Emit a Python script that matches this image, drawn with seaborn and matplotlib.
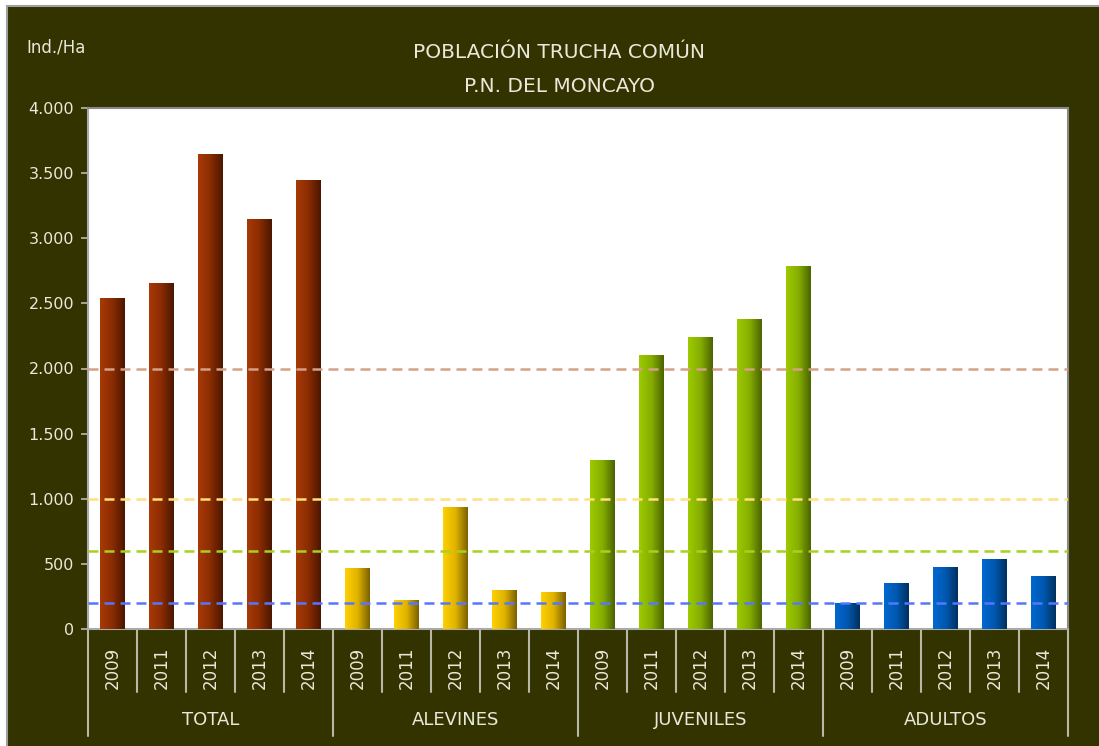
import numpy as np
import pandas as pd
import matplotlib
matplotlib.use("Agg")
import matplotlib.pyplot as plt
import seaborn as sns
from matplotlib.colors import LinearSegmentedColormap
import matplotlib.transforms as mtransforms
from matplotlib.lines import Line2D

# ---- data ----
groups = ["TOTAL", "ALEVINES", "JUVENILES", "ADULTOS"]
years = ["2009", "2011", "2012", "2013", "2014"]
total = [2540, 2655, 3645, 3145, 3445]
alevines = [468, 223, 940, 300, 284]
juveniles = [1297, 2104, 2245, 2380, 2787]
adultos = [200, 353, 476, 537, 407]
reference_levels = [2000, 1000, 600, 200]
y_ticks = [0, 500, 1000, 1500, 2000, 2500, 3000, 3500, 4000]
y_tick_labels = ["0", "500", "1.000", "1.500", "2.000", "2.500", "3.000", "3.500", "4.000"]

values = [total, alevines, juveniles, adultos]

# ---- styles ----
BG = "#333300"
TXT = "#E8E8DC"
light_cols = {"TOTAL": "#A93A08", "ALEVINES": "#FFD000", "JUVENILES": "#9CCB00", "ADULTOS": "#0068D0"}
mid_cols = {"TOTAL": "#8A2C02", "ALEVINES": "#E0B400", "JUVENILES": "#86AE00", "ADULTOS": "#0058B0"}
dark_cols = {"TOTAL": "#4A1600", "ALEVINES": "#7A6000", "JUVENILES": "#4A6400", "ADULTOS": "#00305E"}
ref_cols = ["#D4A088", "#FFE07A", "#A8D020", "#5577FF"]

rows = []
for g, vals in zip(groups, values):
    for y, v in zip(years, vals):
        rows.append({"key": f"{g} {y}", "group": g, "year": y, "value": v})
df = pd.DataFrame(rows)

sns.set_theme(style="white")
plt.rcParams["font.family"] = ["DejaVu Sans"]

W, H = 1099, 746
fig = plt.figure(figsize=(W / 100, H / 100), dpi=100, facecolor=BG)
# white margin + gray frame on top and left
fig.patches.append(plt.Rectangle((0, 1 - 6 / H), 1, 6 / H, transform=fig.transFigure,
                                 facecolor="white", edgecolor="none", zorder=-1))
fig.patches.append(plt.Rectangle((0, 0), 7 / W, 1, transform=fig.transFigure,
                                 facecolor="white", edgecolor="none", zorder=-1))
fig.lines.append(Line2D([7 / W, 1], [1 - 6 / H, 1 - 6 / H], transform=fig.transFigure,
                        color="#A0A0A0", linewidth=1.5))
fig.lines.append(Line2D([7 / W, 7 / W], [0, 1 - 6 / H], transform=fig.transFigure,
                        color="#A0A0A0", linewidth=1.5))

ax = fig.add_axes([88 / W, (H - 629) / H, (1068 - 88) / W, (629 - 108) / H])
ax.set_facecolor("white")

sns.barplot(data=df, x="key", y="value", hue="group", palette=light_cols,
            dodge=False, width=0.49, legend=False, ax=ax, zorder=3,
            order=list(df["key"]), hue_order=groups)

# gradient fill clipped to each bar
patches = [p for p in ax.patches if p.get_height() > 0]
patches.sort(key=lambda p: p.get_x())
grad = np.linspace(0, 1, 256).reshape(1, -1)
for p, g in zip(patches, df["group"]):
    cmap = LinearSegmentedColormap.from_list(g, [light_cols[g], mid_cols[g], dark_cols[g]])
    x0, w, h = p.get_x(), p.get_width(), p.get_height()
    im = ax.imshow(grad, extent=(x0, x0 + w, 0, h), aspect="auto", cmap=cmap,
                   zorder=4, interpolation="bicubic")
    im.set_clip_path(p)
    p.set_edgecolor("none")

for lvl, c in zip(reference_levels, ref_cols):
    ax.axhline(lvl, color=c, linewidth=1.8, dashes=(4, 2.4), zorder=5)

ax.set_xlim(-0.5, len(df) - 0.5)
ax.set_ylim(0, 4000)
ax.set_yticks(y_ticks)
ax.set_yticklabels(y_tick_labels, color=TXT, fontsize=11.5)
ax.set_xticks(range(len(df)))
ax.set_xticklabels(df["year"], rotation=90, color=TXT, fontsize=12)
ax.tick_params(axis="y", length=5, color="#BBBBAA", width=1.2, pad=5, left=True)
ax.tick_params(axis="x", length=0, pad=13)
ax.set_xlabel("")
ax.set_ylabel("")
for s in ["left", "bottom"]:
    ax.spines[s].set_color("#AAAAAA")
    ax.spines[s].set_linewidth(1.5)
for s in ["top", "right"]:
    ax.spines[s].set_color("#888888")
    ax.spines[s].set_linewidth(1.5)

# category separators
trans = mtransforms.blended_transform_factory(ax.transData, ax.transAxes)
n = len(df)
for i in range(n + 1):
    xpos = i - 0.5
    depth = -0.205 if i % 5 == 0 else -0.12
    ax.plot([xpos, xpos], [0, depth], transform=trans, color="#B8B8A8",
            linewidth=1.5, clip_on=False)
for gi, g in enumerate(groups):
    ax.text(gi * 5 + 2, -0.175, g, transform=trans, ha="center", va="center",
            color=TXT, fontsize=13)

fig.text(559 / W, 1 - 53 / H, "POBLACIÓN TRUCHA COMÚN", ha="center", va="center",
         color=TXT, fontsize=14.5)
fig.text(559 / W, 1 - 87 / H, "P.N. DEL MONCAYO", ha="center", va="center",
         color=TXT, fontsize=14.5)
fig.text(26 / W, 1 - 47 / H, "Ind./Ha", ha="left", va="center", color=TXT, fontsize=12)

fig.savefig("out.png", dpi=100, facecolor=BG)
